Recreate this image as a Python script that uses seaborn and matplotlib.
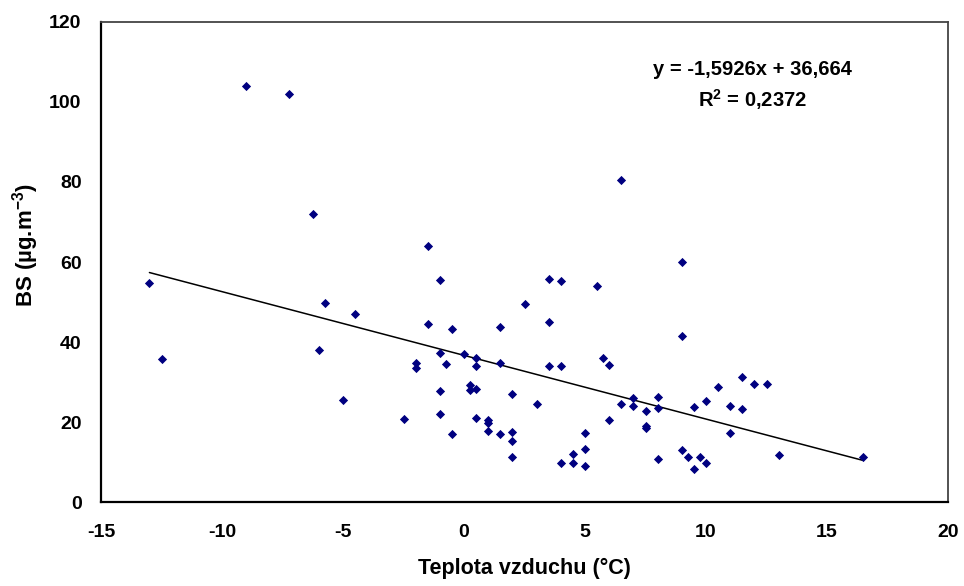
import numpy as np
import pandas as pd
import matplotlib
matplotlib.use("Agg")
import matplotlib.pyplot as plt
import seaborn as sns

# Data
temperature = [-13, -12.5, -9, -7.25, -6.25, -5.75, -6, -4.5, -5, -2.5,
               -2, -2, -1.5, -1.5, -1, -1, -1, -1, -0.75, -0.5,
               -0.5, 0, 0.25, 0.25, 0.5, 0.5, 0.5, 0.5, 1, 1,
               1, 1.5, 1.5, 1.5, 2, 2, 2, 2, 2.5, 3,
               3.5, 3.5, 3.5, 4, 4, 4, 4.5, 4.5, 5, 5,
               5, 5.5, 5.75, 6, 6, 6.5, 6.5, 7, 7, 7.5,
               7.5, 7.5, 8, 8, 8, 9, 9, 9, 9.25, 9.5,
               9.5, 9.75, 10, 10, 10.5, 11, 11, 11.5, 11.5, 12,
               12.5, 13, 16.5]
bs = [54.75, 35.75, 104, 102, 72.1, 49.8, 38.1, 46.9, 25.6, 20.75,
      34.7, 33.5, 64, 44.4, 55.6, 37.25, 27.7, 21.9, 34.4, 43.25,
      17.1, 36.9, 29.3, 28.1, 36.1, 33.9, 28.25, 20.9, 20.4, 19.7,
      17.75, 43.8, 34.8, 17.1, 27.1, 17.4, 15.3, 11.2, 49.5, 24.6,
      55.75, 44.9, 34.1, 55.2, 34.1, 9.7, 12, 9.8, 17.2, 13.2,
      9, 54.1, 36, 34.2, 20.5, 80.4, 24.4, 26.1, 23.9, 22.7,
      19.1, 18.4, 26.25, 23.6, 10.75, 60, 41.5, 13.1, 11.25, 23.8,
      8.3, 11.3, 25.2, 9.8, 28.8, 24, 17.3, 31.2, 23.3, 29.4,
      29.5, 11.7, 11.3]
slope = -1.5926
intercept = 36.664
r2 = 0.2372
x_ticks = [-15, -10, -5, 0, 5, 10, 15, 20]
y_ticks = [0, 20, 40, 60, 80, 100, 120]

df = pd.DataFrame({"t": temperature, "bs": bs})

sns.set_style("white")
plt.rcParams["font.family"] = ["Liberation Sans", "DejaVu Sans"]
plt.rcParams["font.weight"] = "bold"
plt.rcParams["text.color"] = "black"
plt.rcParams["axes.labelcolor"] = "black"
plt.rcParams["xtick.color"] = "black"
plt.rcParams["ytick.color"] = "black"
plt.rcParams["mathtext.fontset"] = "custom"
plt.rcParams["mathtext.rm"] = "Liberation Sans:bold"
plt.rcParams["mathtext.it"] = "Liberation Sans:bold"
plt.rcParams["mathtext.bf"] = "Liberation Sans:bold"
plt.rcParams["mathtext.default"] = "rm"

fig = plt.figure(figsize=(9.64, 5.86), dpi=100)
ax = fig.add_axes([0.1048, 0.1433, 0.8786, 0.8192])

sns.scatterplot(data=df, x="t", y="bs", marker="D", s=22, color="#000080",
                edgecolor="#000080", linewidth=0, ax=ax, zorder=3)

# trend line from equation
xl = np.array([min(temperature), max(temperature)])
line_df = pd.DataFrame({"t": xl, "bs": slope * xl + intercept})
sns.lineplot(data=line_df, x="t", y="bs", color="black", linewidth=1.1, ax=ax, zorder=2)

ax.set_xlim(-15, 20)
ax.set_ylim(0, 120)
ax.set_xticks(x_ticks)
ax.set_yticks(y_ticks)
ax.set_xticklabels([str(v) for v in x_ticks], fontsize=14, fontweight="bold")
ax.set_yticklabels([str(v) for v in y_ticks], fontsize=14, fontweight="bold")
ax.tick_params(axis="both", direction="out", length=5, width=1.2, color="#333333")
ax.tick_params(axis="y", pad=9)
ax.tick_params(axis="x", pad=11)

for side in ["left", "bottom"]:
    ax.spines[side].set_color("black")
    ax.spines[side].set_linewidth(1.6)
for side in ["top", "right"]:
    ax.spines[side].set_color("#444444")
    ax.spines[side].set_linewidth(1.3)
    ax.spines[side].set_visible(True)

ax.set_xlabel("Teplota vzduchu (°C)", fontsize=15.5, fontweight="bold", labelpad=12)
ax.set_ylabel("BS (µg.m$^{-3}$)", fontsize=16, fontweight="bold")
ax.yaxis.set_label_coords(-0.071, 0.535)

ax.text(11.9, 108, "y = -1,5926x + 36,664", ha="center", va="center",
        fontsize=14.5, fontweight="bold")
ax.text(11.9, 100.5, "R$^{2}$ = 0,2372", ha="center", va="center",
        fontsize=14.5, fontweight="bold")

fig.savefig("out.png", dpi=100)
